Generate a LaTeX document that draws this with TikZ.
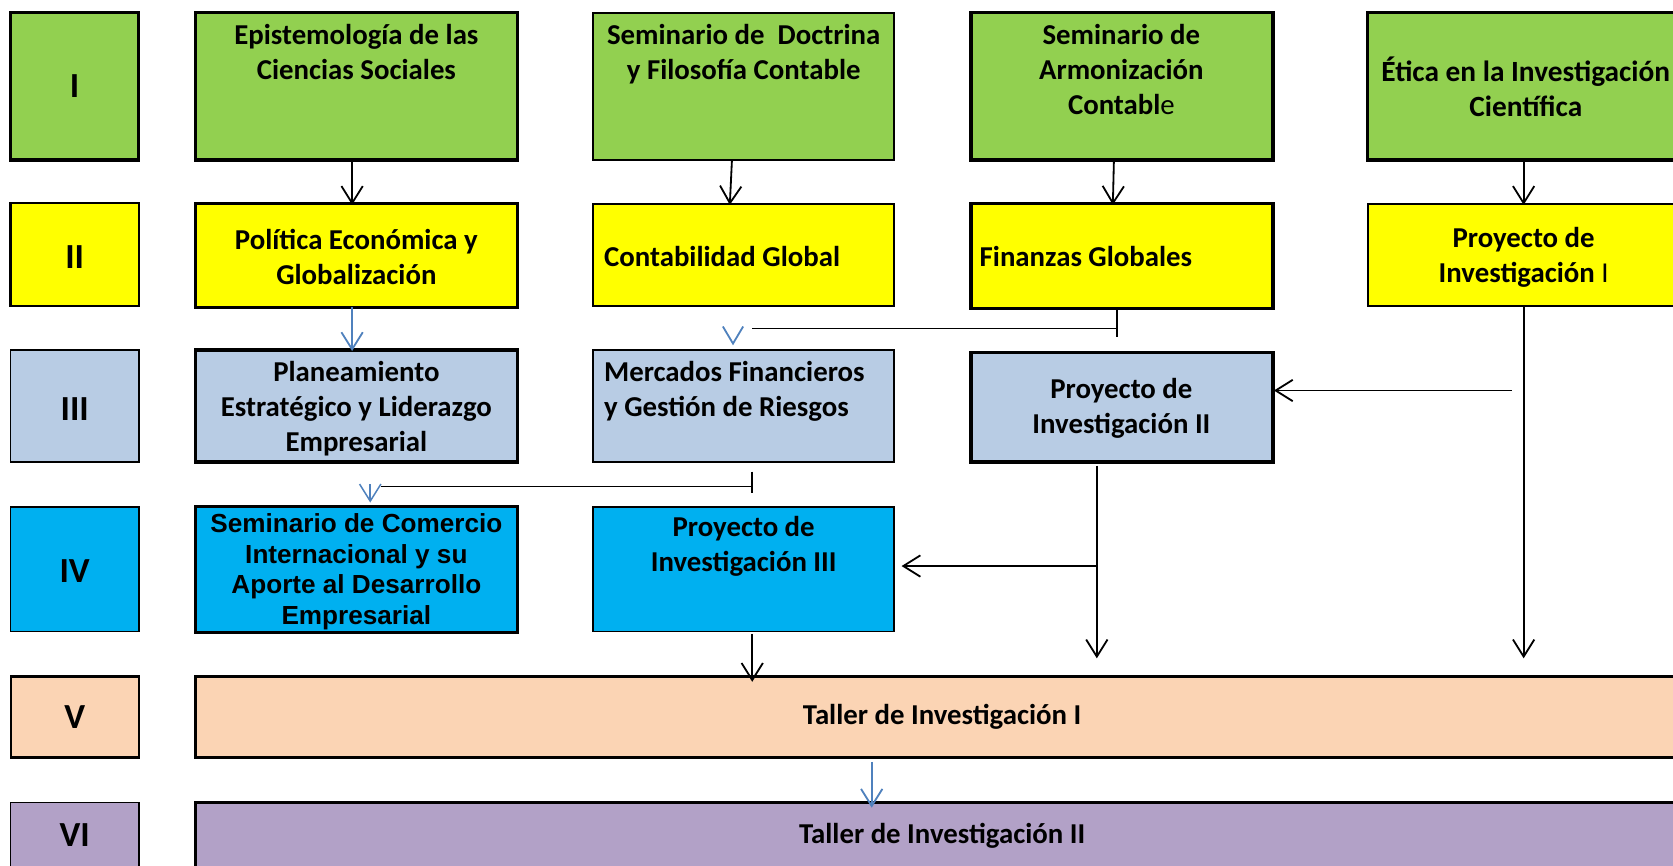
\documentclass[tikz,border=0pt]{standalone}
\usepackage{fontspec}
\setmainfont{Carlito}
\newfontfamily\arialfont{Liberation Sans}
\usetikzlibrary{arrows.meta}
\definecolor{cgreen}{HTML}{92D050}
\definecolor{cyellow}{HTML}{FFFF00}
\definecolor{clblue}{HTML}{B8CCE4}
\definecolor{ccyan}{HTML}{00B0F0}
\definecolor{cpeach}{HTML}{FBD4B4}
\definecolor{cpurple}{HTML}{B2A1C7}
\definecolor{arrowblue}{HTML}{4F81BD}
\begin{document}
\begin{tikzpicture}[x=1pt,y=-1pt,
  bx/.style={draw=black, rectangle, inner sep=0pt, outer sep=0pt, anchor=north west, line width=#1},
  bx/.default=3pt,
  txt/.style={font=\fontsize{27}{33}\selectfont\bfseries, align=center, inner sep=0pt},
  num/.style={font=\fontsize{33}{40}\selectfont\bfseries, inner sep=0pt},
  tip/.style={-{Straight Barb[length=16pt,width=20pt]}},
  arr/.style={draw=black, line width=1.7pt, tip},
  barr/.style={draw=arrowblue, line width=1.7pt, tip},
  plain/.style={draw=black, line width=1.7pt},
]
\useasboundingbox (0,0) rectangle (1568,811.6);
\clip (0,0) rectangle (1568,811.6);
% ---- row I
\node[bx, fill=cgreen, minimum width=120pt, minimum height=138pt] (l1) at (10,12) {};
\node[bx, fill=cgreen, minimum width=302pt, minimum height=138pt] (epi) at (183,12) {};
\node[bx=1.8pt, fill=cgreen, minimum width=282pt, minimum height=138pt] (doc) at (556,12) {};
\node[bx, fill=cgreen, minimum width=283pt, minimum height=138pt] (arm) at (910,12) {};
\node[bx, fill=cgreen, minimum width=292pt, minimum height=138pt] (eti) at (1282,12) {};
% ---- row II
\node[bx=2.2pt, fill=cyellow, minimum width=120pt, minimum height=97pt] (l2) at (10,190) {};
\node[bx, fill=cyellow, minimum width=302pt, minimum height=97pt] (pol) at (183,191) {};
\node[bx=1.8pt, fill=cyellow, minimum width=282pt, minimum height=96pt] (con) at (556,191) {};
\node[bx, fill=cyellow, minimum width=283pt, minimum height=98pt] (fin) at (910,191) {};
\node[bx=2pt, fill=cyellow, minimum width=292pt, minimum height=96pt] (py1) at (1282,191) {};
% ---- row III
\node[bx=1.5pt, fill=clblue, minimum width=120pt, minimum height=105pt] (l3) at (10,328) {};
\node[bx, fill=clblue, minimum width=302pt, minimum height=105pt] (pla) at (183,328) {};
\node[bx=1.8pt, fill=clblue, minimum width=282pt, minimum height=105pt] (mer) at (556,328) {};
\node[bx, fill=clblue, minimum width=283pt, minimum height=103pt] (py2) at (910,330) {};
% ---- row IV
\node[bx=1.5pt, fill=ccyan, minimum width=120pt, minimum height=117pt] (l4) at (10,475) {};
\node[bx, fill=ccyan, minimum width=302pt, minimum height=118pt] (com) at (183,475) {};
\node[bx=1.5pt, fill=ccyan, minimum width=282pt, minimum height=117pt] (py3) at (556,475) {};
% ---- row V, VI
\node[bx=2pt, fill=cpeach, minimum width=120pt, minimum height=76pt] (l5) at (10,634) {};
\node[bx, fill=cpeach, minimum width=1400pt, minimum height=76pt] (ta1) at (183,634) {};
\node[bx=1.5pt, fill=cpurple, minimum width=120pt, minimum height=80pt] (l6) at (10,752) {};
\node[bx, fill=cpurple, minimum width=1400pt, minimum height=80pt] (ta2) at (183,752) {};

% ---- texts
\node[num] (n1) at (70,81) {I};
\node[num] (n2) at (70,241) {II};
\node[num] (n3) at (70,383) {III};
\node[num] (n4) at (70,535) {IV};
\node[num] (n5) at (70,672) {V};
\node[num] (n6) at (70,783) {VI};

\node[txt] (tepi) at (334,48.5) {Epistemología de las\\Ciencias Sociales};
\node[txt] (tdoc) at (697,50.5) {Seminario de\ \ Doctrina\\y Filosofía Contable};
\node[txt] (tarm) at (1051,65) {Seminario de\\Armonización\\Contabl{\mdseries e}};
\node[txt, font=\fontsize{27.5}{33}\selectfont\bfseries] (teti) at (1430,81) {Ética en la Investigación\\Científica};

\node[txt] (tpol) at (334,241) {Política Económica y\\Globalización};
\node[txt, anchor=west] (tcon) at (566,240) {Contabilidad Global};
\node[txt, anchor=west] (tfin) at (918,240) {Finanzas Globales};
\node[txt] (tpy1) at (1428,241) {Proyecto de\\Investigación {\mdseries I}};

\node[txt] (tpla) at (334,383) {Planeamiento\\Estratégico y Liderazgo\\Empresarial};
\node[txt, anchor=west, align=left] (tmer) at (566,367) {Mercados Financieros\\y Gestión de Riesgos};
\node[txt] (tpy2) at (1051,383) {Proyecto de\\Investigación II};

\node[txt, font=\arialfont\fontsize{24.5}{28.7}\selectfont\bfseries] (tcom) at (334,536) {Seminario de Comercio\\Internacional y su\\Aporte al Desarrollo\\Empresarial};
\node[txt] (tpy3) at (697,512) {Proyecto de\\Investigación III};

\node[txt] (tta1) at (883,672) {Taller de Investigación I};
\node[txt] (tta2) at (883,783) {Taller de Investigación II};

% ---- connectors
\draw[arr] ([xshift=-4pt]epi.south) -- ([xshift=-4pt,yshift=-1pt]pol.north);
\draw[arr] ([xshift=-11pt]doc.south) -- ([xshift=-13pt,yshift=-1pt]con.north);
\draw[arr] ([xshift=-7.5pt]arm.south) -- ([xshift=-8.5pt,yshift=-1pt]fin.north);
\draw[arr] (eti.south) -- ([yshift=-1pt]py1.north);

\draw[barr] ([xshift=-4pt]pol.south) -- ([xshift=-4pt,yshift=-1pt]pla.north);

% Finanzas -> Mercados
\coordinate (fbar) at (1047,316);
\coordinate (fj) at (1047,307.7);
\coordinate (fl) at (705,307.7);
\coordinate (v1) at (687,322);
\draw[plain, line width=1.4pt] ([xshift=-4.5pt]fin.south) -- (fbar);
\draw[plain, line width=1.4pt] (fj) -- (fl);
\draw[draw=arrowblue, line width=1.7pt] (v1) ++(-9.5,-16) -- (v1) -- ++(9.5,-16);

% Mercados -> Comercio
\coordinate (mb1) at (705,442);
\coordinate (mb2) at (705,462);
\coordinate (mj) at (705,456);
\coordinate (ml) at (357,456);
\coordinate (v2) at (347,454);
\coordinate (v2e) at (347,471);
\draw[plain, line width=1.4pt] (mb1) -- (mb2);
\draw[plain, line width=1.4pt] (mj) -- (ml);
\draw[barr, line width=1.4pt] (v2) -- (v2e);

% Proyecto I -> Proyecto II and Taller I
\coordinate (j1) at (1428,366);
\coordinate (j1h) at (1417,366);
\coordinate (e1) at (1428,617);
\draw[plain] (py1.south) -- (j1);
\draw[arr] (j1h) -- ([xshift=1pt]py2.east |- j1h);
\draw[arr] (j1) -- (e1);

% Proyecto II -> Proyecto III and Taller I
\coordinate (p2s) at (1028,436.5);
\coordinate (j2) at (1028,530.5);
\coordinate (e2) at (1028,617);
\draw[arr] (p2s) -- (e2);
\draw[arr] (j2) -- ([xshift=7pt]py3.east |- j2);

% Proyecto III -> Taller I
\draw[arr] ([xshift=8pt,yshift=-2pt]py3.south) -- ([xshift=8pt,yshift=-47pt]py3.south);

% Taller I -> Taller II
\draw[barr] ([xshift=-66pt,yshift=-4pt]ta1.south) -- ([xshift=-66pt,yshift=-5pt]ta2.north);
\end{tikzpicture}
\end{document}
